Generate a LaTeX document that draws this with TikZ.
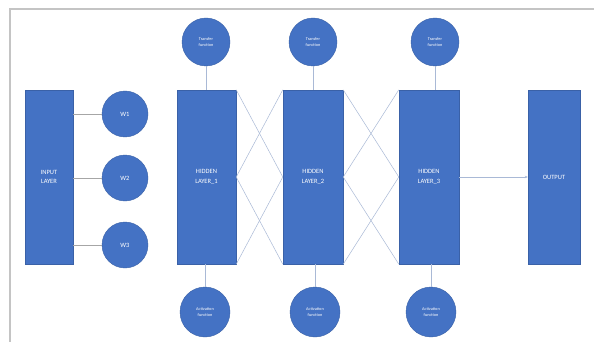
\documentclass[tikz,border=0pt]{standalone}
\usepackage{fontspec}
\setmainfont{Carlito}
\usetikzlibrary{arrows.meta}
\definecolor{obl}{HTML}{4472C4}
\definecolor{lnk}{HTML}{A9B9D6}
\definecolor{frm}{HTML}{C4C4C4}
\begin{document}
\begin{tikzpicture}[x=1pt,y=-1pt,
  layerbox/.style={rectangle,fill=obl,draw=obl!85!black,line width=0.4pt,inner sep=0pt,text=white,align=center,font=\fontsize{6.5}{9.5}\selectfont},
  wcirc/.style={circle,fill=obl,draw=obl!85!black,line width=0.4pt,inner sep=0pt,minimum size=46pt,text=white,font=\fontsize{6.5}{8}\selectfont},
  fcirc/.style={circle,fill=obl,draw=obl!85!black,line width=0.4pt,inner sep=0pt,minimum size=48pt,text=white,align=center,font=\fontsize{4.3}{6.5}\selectfont},
  link/.style={draw=lnk,line width=0.5pt},
  frame/.style={draw=frm,line width=1.3pt}]
\useasboundingbox (0,0) rectangle (594,342);
\fill[white] (0,0) rectangle (594,342);
\coordinate (fa) at (10,342);
\coordinate (fb) at (10,9);
\coordinate (fc) at (594,9);
\draw[frame] (fa) -- (fb) -- (fc);
% layers
\node[layerbox,minimum width=48pt,minimum height=174pt] (in) at (49,177) {INPUT\\LAYER};
\node[layerbox,minimum width=59pt,minimum height=174pt] (h1) at (206.5,177) {HIDDEN\\LAYER\_1};
\node[layerbox,minimum width=60pt,minimum height=174pt] (h2) at (313,177) {HIDDEN\\LAYER\_2};
\node[layerbox,minimum width=60pt,minimum height=174pt] (h3) at (429,177) {HIDDEN\\LAYER\_3};
\node[layerbox,minimum width=52pt,minimum height=174pt] (out) at (554,177) {OUTPUT};
% weights
\node[wcirc] (w1) at (125,114) {W1};
\node[wcirc] (w2) at (125,178) {W2};
\node[wcirc] (w3) at (125,245) {W3};
% functions
\node[fcirc] (t1) at (206,42) {Transfer\\function};
\node[fcirc] (t2) at (313,42) {Transfer\\function};
\node[fcirc] (t3) at (435,42) {Transfer\\function};
\node[fcirc,minimum size=50pt] (a1) at (205,312) {Activation\\function};
\node[fcirc,minimum size=50pt] (a2) at (315,312) {Activation\\function};
\node[fcirc,minimum size=50pt] (a3) at (431,312) {Activation\\function};
% connectors
\draw[link,draw=gray!70] (in.east |- w1) -- (w1.west);
\draw[link,draw=gray!70] (in.east |- w2) -- (w2.west);
\draw[link,draw=gray!70] (in.east |- w3) -- (w3.west);
\draw[link] (t1.south) -- (t1.south |- h1.north);
\draw[link] (t2.south) -- (t2.south |- h2.north);
\draw[link] (t3.south) -- (t3.south |- h3.north);
\draw[link] (a1.north) -- (a1.north |- h1.south);
\draw[link] (a2.north) -- (a2.north |- h2.south);
\draw[link] (a3.north) -- (a3.north |- h3.south);
\draw[link] (h1.north east) -- (h2.west);
\draw[link] (h1.east) -- (h2.north west);
\draw[link] (h1.east) -- (h2.south west);
\draw[link] (h1.south east) -- (h2.west);
\draw[link] (h2.north east) -- (h3.west);
\draw[link] (h2.east) -- (h3.north west);
\draw[link] (h2.east) -- (h3.south west);
\draw[link] (h2.south east) -- (h3.west);
\draw[link,-{Stealth[length=3pt,width=2.5pt]}] (h3.east) -- (out.west);
\end{tikzpicture}
\end{document}
